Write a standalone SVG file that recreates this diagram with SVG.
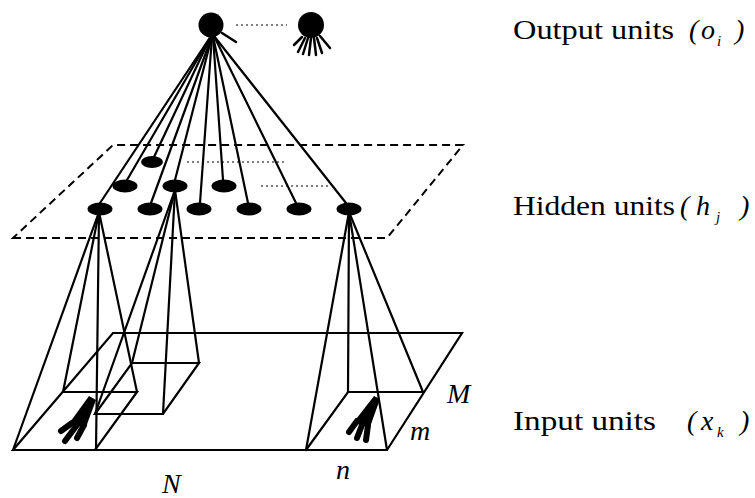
<svg xmlns="http://www.w3.org/2000/svg" width="755" height="498" viewBox="0 0 755 498">
<style>
.ln{stroke:#000;stroke-width:2.2;fill:none;stroke-linecap:round}
.dash{stroke:#000;stroke-width:2;fill:none;stroke-dasharray:8 5}
.dot{stroke:#000;stroke-width:1;fill:none;stroke-dasharray:2 3}
.stub{stroke:#000;stroke-width:2.5;stroke-linecap:round}
.fin{stroke:#000;stroke-width:6;stroke-linecap:round}
.unit{fill:#000}
.lbl{font-family:"Liberation Serif","Times New Roman",serif;font-size:28px;fill:#000}
.it{font-family:"Liberation Serif","Times New Roman",serif;font-size:28px;font-style:italic;fill:#000}
.sub{font-family:"Liberation Serif","Times New Roman",serif;font-size:15px;font-style:italic;fill:#000}
</style>
<rect width="755" height="498" fill="#fff"/>

<g id="input-plane">
  <polygon class="ln" points="13,450 387,450 462,333 113,333"/>
</g>
<g id="hidden-plane">
  <polygon class="dash" points="13,238 387,238 463,145 113,145"/>
</g>

<g id="receptive-field-1">
  <polyline class="ln" points="13,450 95,450 137,392 63,392"/>
  <line class="ln" x1="99" y1="212" x2="13" y2="450"/>
  <line class="ln" x1="99" y1="212" x2="63" y2="392"/>
  <line class="ln" x1="99" y1="212" x2="137" y2="392"/>
  <line class="ln" x1="99" y1="212" x2="96" y2="450"/>
  <polygon class="unit" points="89,396 96,400 86,427 68,425"/>
  <line class="fin" x1="72" y1="423" x2="61" y2="431"/>
  <line class="fin" x1="77" y1="425" x2="65" y2="441"/>
  <line class="fin" x1="84" y1="425" x2="77" y2="438"/>
</g>

<g id="receptive-field-2">
  <polygon class="ln" points="95,414 163,414 199,363 132,363"/>
  <line class="ln" x1="175" y1="190" x2="95" y2="414"/>
  <line class="ln" x1="175" y1="190" x2="132" y2="363"/>
  <line class="ln" x1="175" y1="190" x2="163" y2="414"/>
  <line class="ln" x1="175" y1="190" x2="199" y2="363"/>
</g>

<g id="receptive-field-3">
  <polyline class="ln" points="306,450 348,392 423,392"/>
  <line class="ln" x1="349" y1="212" x2="306" y2="450"/>
  <line class="ln" x1="349" y1="212" x2="348" y2="392"/>
  <line class="ln" x1="349" y1="212" x2="387" y2="450"/>
  <line class="ln" x1="349" y1="212" x2="423" y2="392"/>
  <polygon class="unit" points="374,396 380,399 370,427 353,423"/>
  <line class="fin" x1="357" y1="421" x2="349" y2="432"/>
  <line class="fin" x1="362" y1="425" x2="357" y2="438"/>
  <line class="fin" x1="368" y1="425" x2="366" y2="440"/>
</g>

<g id="connectors">
  <line class="ln" x1="211" y1="36" x2="100" y2="203"/>
  <line class="ln" x1="211" y1="36" x2="127" y2="180"/>
  <line class="ln" x1="211" y1="36" x2="154" y2="157"/>
  <line class="ln" x1="212" y1="36" x2="151" y2="203"/>
  <line class="ln" x1="212" y1="36" x2="175" y2="180"/>
  <line class="ln" x1="212" y1="36" x2="200" y2="203"/>
  <line class="ln" x1="213" y1="36" x2="223" y2="180"/>
  <line class="ln" x1="213" y1="36" x2="248" y2="203"/>
  <line class="ln" x1="214" y1="36" x2="296" y2="203"/>
  <line class="ln" x1="214" y1="36" x2="346" y2="203"/>
  <line class="dot" x1="236" y1="25" x2="287" y2="25"/>
  <line class="dot" x1="187" y1="162" x2="287" y2="162"/>
  <line class="dot" x1="261" y1="186" x2="328" y2="186"/>
</g>

<g id="output-unit-1">
  <circle class="unit" cx="211" cy="25" r="12.5"/>
  <line class="stub" x1="222" y1="33" x2="236" y2="42"/>
</g>
<g id="output-unit-2">
  <circle class="unit" cx="311" cy="25" r="13"/>
  <line class="stub" x1="302" y1="37" x2="294" y2="45"/>
  <line class="stub" x1="305" y1="38" x2="298" y2="52"/>
  <line class="stub" x1="308" y1="38" x2="303" y2="54"/>
  <line class="stub" x1="311" y1="38" x2="309" y2="55"/>
  <line class="stub" x1="314" y1="38" x2="316" y2="55"/>
  <line class="stub" x1="317" y1="38" x2="322" y2="53"/>
  <line class="stub" x1="320" y1="36" x2="330" y2="48"/>
</g>

<g id="hidden-units">
  <ellipse class="unit" cx="152" cy="162" rx="11" ry="6"/>
  <ellipse class="unit" cx="125" cy="186" rx="12.5" ry="6.5"/>
  <ellipse class="unit" cx="175" cy="186" rx="12.5" ry="6.5"/>
  <ellipse class="unit" cx="224" cy="186" rx="12.5" ry="6.5"/>
  <ellipse class="unit" cx="100" cy="209" rx="12.5" ry="6.5"/>
  <ellipse class="unit" cx="150" cy="209" rx="12.5" ry="6.5"/>
  <ellipse class="unit" cx="199" cy="209" rx="12.5" ry="6.5"/>
  <ellipse class="unit" cx="249" cy="209" rx="12.5" ry="6.5"/>
  <ellipse class="unit" cx="299" cy="209" rx="12.5" ry="6.5"/>
  <ellipse class="unit" cx="349" cy="209" rx="12.5" ry="6.5"/>
</g>

<g id="labels">
  <text class="lbl" x="513" y="39" textLength="161" lengthAdjust="spacingAndGlyphs">Output units</text>
  <text class="it" x="689" y="39">(</text>
  <text class="it" x="701" y="39">o</text>
  <text class="sub" x="717" y="46">i</text>
  <text class="it" x="735" y="39">)</text>

  <text class="lbl" x="513" y="215" textLength="162" lengthAdjust="spacingAndGlyphs">Hidden units</text>
  <text class="it" x="680" y="215">(</text>
  <text class="it" x="696" y="215">h</text>
  <text class="sub" x="716" y="222">j</text>
  <text class="it" x="740" y="215">)</text>

  <text class="lbl" x="513" y="430" textLength="143" lengthAdjust="spacingAndGlyphs">Input units</text>
  <text class="it" x="687" y="430">(</text>
  <text class="it" x="701" y="430">x</text>
  <text class="sub" x="717" y="437">k</text>
  <text class="it" x="740" y="430">)</text>

  <text class="it" x="447" y="403">M</text>
  <text class="it" x="410" y="440">m</text>
  <text class="it" x="336" y="479">n</text>
  <text class="it" x="162" y="493">N</text>
</g>
</svg>
